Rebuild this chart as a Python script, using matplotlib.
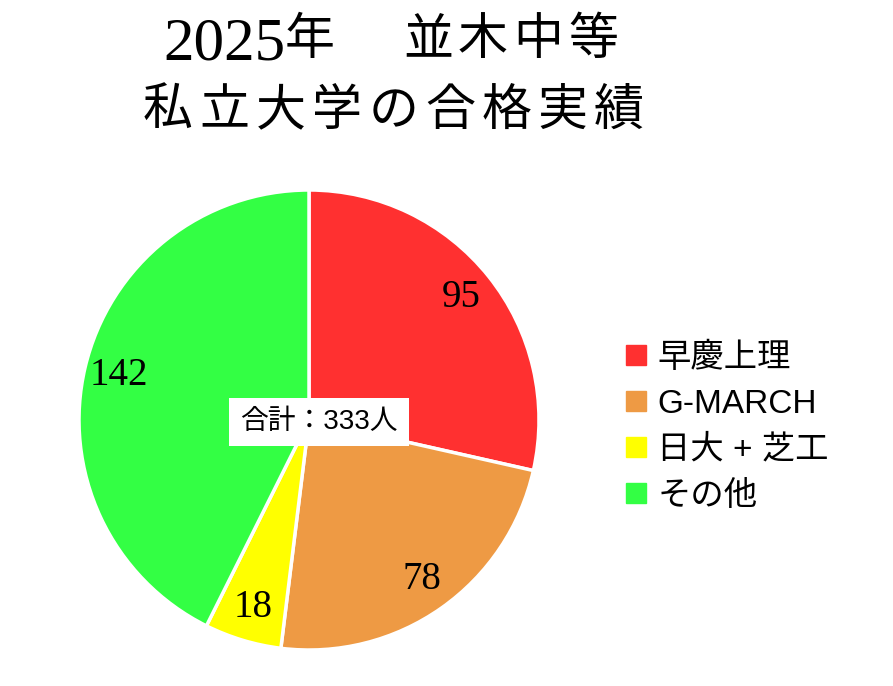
import matplotlib
matplotlib.use('Agg')
from matplotlib import pyplot as plt
from matplotlib.lines import Line2D

# data
categories = ['早慶上理', 'G-MARCH', '日大 + 芝工', 'その他']
counts = [95, 78, 18, 142]
colors = ['#FF3030', '#EE9A44', '#FFFF00', '#33FF44']
title_line1_head = '2025'
title_line1_cjk = ['年']
title_line1_tail = ['並', '木', '中', '等']
title_line2 = ['私', '立', '大', '学', 'の', '合', '格', '実', '績']
total_label = '合計：' + str(sum(counts)) + '人'

W, H = 893, 686
serif = ['Liberation Serif', 'Noto Sans CJK JP']
sans = ['Liberation Sans', 'Noto Sans CJK JP']

fig = plt.figure(figsize=(W / 100, H / 100), dpi=100)
fig.patch.set_facecolor('white')

def px(x, y):
    # pixel position (top-left origin) -> figure fraction
    return x / W, 1 - y / H

# pie axes, centre (309, 420), radius 230 px
cx, cy, r = 309, 420, 230
ax = fig.add_axes([(cx - r) / W, (H - cy - r) / H, 2 * r / W, 2 * r / H])
wedges, texts = ax.pie(counts, colors=colors, startangle=90, counterclock=False,
                       labels=[str(c) for c in counts], labeldistance=0.85,
                       wedgeprops=dict(edgecolor='white', linewidth=2.5),
                       textprops=dict(family=serif, fontsize=28, color='black'))
for t in texts:
    t.set_horizontalalignment('center')
    t.set_verticalalignment('center')
ax.set_xlim(-1.0, 1.0)
ax.set_ylim(-1.0, 1.0)

# total label box
fig.text(*px(319, 422), total_label, family=sans, fontsize=20, ha='center', va='center',
         bbox=dict(facecolor='white', edgecolor='none', boxstyle='square,pad=0.4'))

# title line 1
fig.text(*px(285, 45), title_line1_head, family=serif, fontsize=44, ha='right', va='center')
fig.text(*px(310, 42), title_line1_cjk[0], family=serif, fontsize=36, ha='center', va='center')
for i, ch in enumerate(title_line1_tail):
    fig.text(*px(428 + i * 55, 42), ch, family=serif, fontsize=36, ha='center', va='center')

# title line 2
for i, ch in enumerate(title_line2):
    fig.text(*px(168 + i * 56.4, 113), ch, family=serif, fontsize=36, ha='center', va='center')

# legend
handles = [Line2D([], [], marker='s', linestyle='none', markersize=14,
                  markerfacecolor=c, markeredgecolor=c) for c in colors]
fig.legend(handles, categories, loc='center left', bbox_to_anchor=px(624, 427),
           frameon=False, prop=dict(family=sans, size=24), handlelength=0.7,
           handletextpad=0.3, labelspacing=0.45, borderpad=0, borderaxespad=0)

fig.savefig('out.png', dpi=100, facecolor='white')
